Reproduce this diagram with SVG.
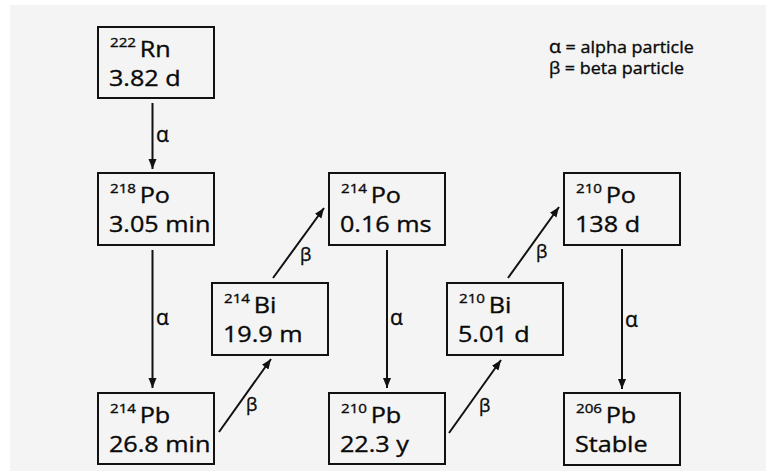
<svg xmlns="http://www.w3.org/2000/svg" width="776" height="476" viewBox="0 0 776 476">
<style>
text{font-family:"Open Sans","Liberation Sans",sans-serif;fill:#0a0a0a;stroke:#0a0a0a;stroke-width:0.35px}
.box{fill:none;stroke:#111;stroke-width:2}
.sup{font-size:13.5px}
.big{font-size:22.5px}
.lab{font-size:16px}
.al{font-size:21px}
.be{font-size:18px}
.con line{stroke:#111;stroke-width:2;marker-end:url(#ah)}
</style>
<defs>
<marker id="ah" markerUnits="userSpaceOnUse" markerWidth="11" markerHeight="9" refX="10" refY="4" orient="auto">
<path d="M0,0 L10,4 L0,8 Z" fill="#111"/>
</marker>
</defs>
<rect x="0" y="0" width="776" height="476" fill="#fff"/>
<rect x="10" y="5" width="756" height="466" fill="#f4f4f4"/>

<g id="legend" transform="translate(549,53) scale(1.12,1)">
<text class="lab" x="0" y="0"><tspan font-size="17.5px">α</tspan> = alpha particle</text>
<text class="lab" x="0" y="21">β = beta particle</text>
</g>

<g class="con" id="connectors">
<line x1="152.5" y1="103" x2="152.5" y2="169"/>
<line x1="152.5" y1="250" x2="152.5" y2="388"/>
<line x1="219" y1="432" x2="271" y2="359"/>
<line x1="273" y1="278" x2="324" y2="208"/>
<line x1="387" y1="250" x2="387" y2="388"/>
<line x1="449" y1="433" x2="501" y2="360"/>
<line x1="508" y1="278" x2="559" y2="207"/>
<line x1="622" y1="249" x2="622" y2="389"/>
<text class="al" x="156" y="142">α</text>
<text class="al" x="156" y="325">α</text>
<text class="al" x="390" y="325">α</text>
<text class="al" x="625" y="327">α</text>
<text class="be" x="246" y="411">β</text>
<text class="be" x="300" y="261">β</text>
<text class="be" x="479" y="412">β</text>
<text class="be" x="536" y="258">β</text>
</g>

<g id="rn222">
<rect class="box" x="98" y="27" width="116" height="71"/>
<g transform="translate(110,57) scale(1.12,1)"><text class="sup" x="0" y="-10">222</text><text class="big" x="26.5" y="0">Rn</text><text class="big" x="-1" y="29">3.82 d</text></g>
</g>
<g id="po218">
<rect class="box" x="98" y="173" width="116" height="72"/>
<g transform="translate(110,203) scale(1.12,1)"><text class="sup" x="0" y="-10">218</text><text class="big" x="26.5" y="0">Po</text><text class="big" x="-1" y="29">3.05 min</text></g>
</g>
<g id="pb214">
<rect class="box" x="98" y="393" width="116" height="71"/>
<g transform="translate(110,423) scale(1.12,1)"><text class="sup" x="0" y="-10">214</text><text class="big" x="26.5" y="0">Pb</text><text class="big" x="-1" y="29">26.8 min</text></g>
</g>
<g id="bi214">
<rect class="box" x="212" y="283" width="116" height="72"/>
<g transform="translate(224,313) scale(1.12,1)"><text class="sup" x="0" y="-10">214</text><text class="big" x="26.5" y="0">Bi</text><text class="big" x="-1" y="29">19.9 m</text></g>
</g>
<g id="po214">
<rect class="box" x="329" y="173" width="116" height="72"/>
<g transform="translate(341,203) scale(1.12,1)"><text class="sup" x="0" y="-10">214</text><text class="big" x="26.5" y="0">Po</text><text class="big" x="-1" y="29">0.16 ms</text></g>
</g>
<g id="pb210">
<rect class="box" x="329" y="393" width="116" height="71"/>
<g transform="translate(341,423) scale(1.12,1)"><text class="sup" x="0" y="-10">210</text><text class="big" x="26.5" y="0">Pb</text><text class="big" x="-1" y="29">22.3 y</text></g>
</g>
<g id="bi210">
<rect class="box" x="447" y="283" width="116" height="72"/>
<g transform="translate(459,313) scale(1.12,1)"><text class="sup" x="0" y="-10">210</text><text class="big" x="26.5" y="0">Bi</text><text class="big" x="-1" y="29">5.01 d</text></g>
</g>
<g id="po210">
<rect class="box" x="564" y="173" width="116" height="72"/>
<g transform="translate(576,203) scale(1.12,1)"><text class="sup" x="0" y="-10">210</text><text class="big" x="26.5" y="0">Po</text><text class="big" x="-1" y="29">138 d</text></g>
</g>
<g id="pb206">
<rect class="box" x="564" y="393" width="116" height="72"/>
<g transform="translate(576,423) scale(1.12,1)"><text class="sup" x="0" y="-10">206</text><text class="big" x="26.5" y="0">Pb</text><text class="big" x="-1" y="29">Stable</text></g>
</g>
</svg>
